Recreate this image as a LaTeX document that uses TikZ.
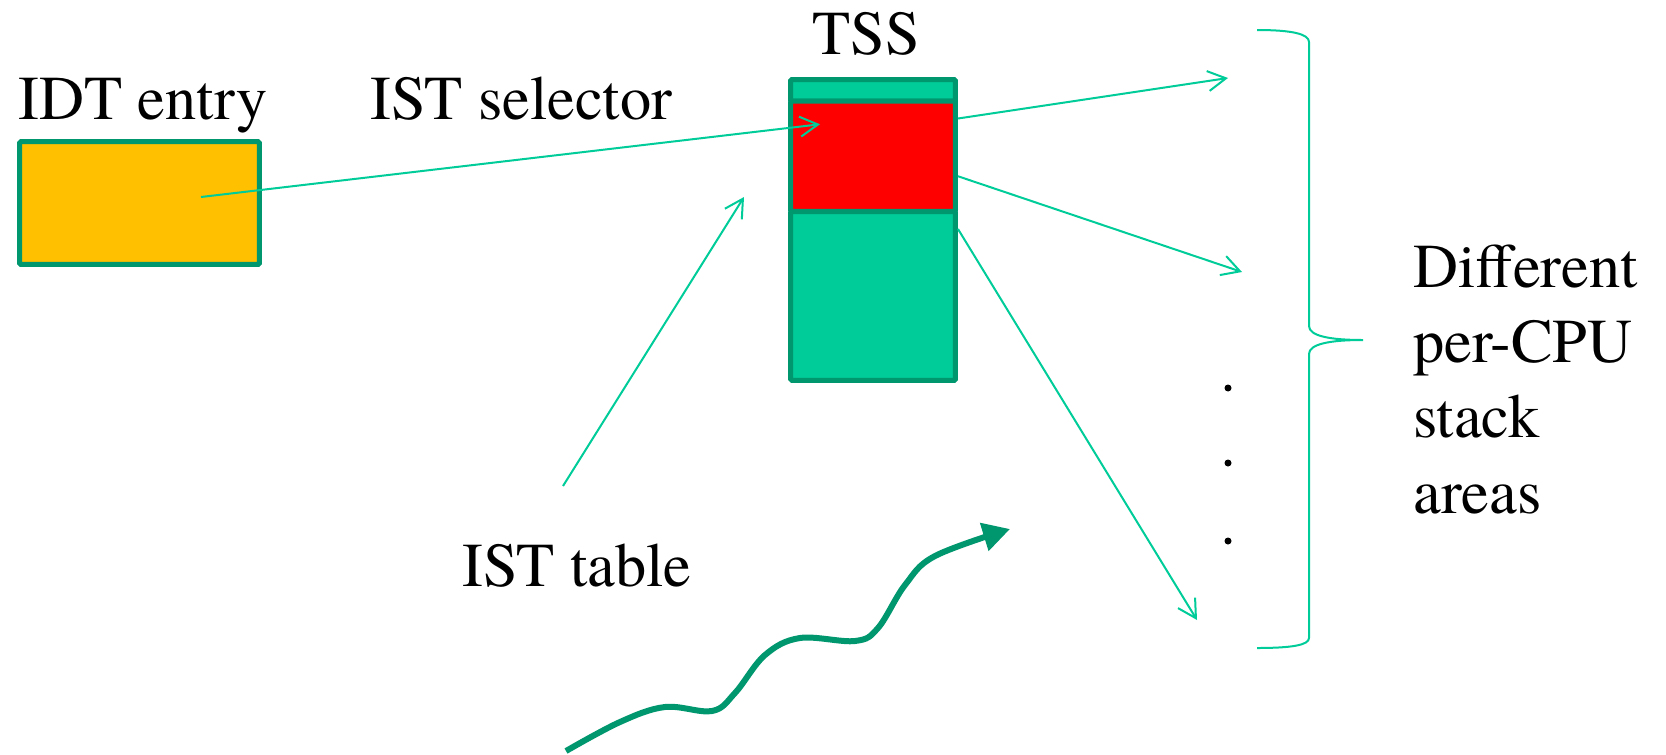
\documentclass[tikz,border=0pt]{standalone}
\usepackage{fontspec}
\setmainfont{texgyretermes-regular.otf}
\newfontfamily\timesfont{texgyretermes-regular.otf}
\usetikzlibrary{arrows.meta}
\usetikzlibrary{positioning}
\definecolor{tealline}{RGB}{0,204,153}
\definecolor{tealedge}{RGB}{0,150,110}
\definecolor{tealfill}{RGB}{0,204,153}
\definecolor{idtfill}{RGB}{255,192,0}

\begin{document}
\begin{tikzpicture}[x=0.02cm, y=-0.02cm, box/.style={rectangle, draw=tealedge, line width=0.1cm, rounded corners=0.03cm, inner sep=0pt, minimum width=3.3cm}, txt/.style={font=\timesfont\fontsize{35.5}{42.7}\selectfont, inner sep=0pt, anchor=base west}, arrow/.style={draw=tealline, line width=0.04cm, -{Straight Barb[length=0.36cm, width=0.4cm]}}, brace/.style={draw=tealline, line width=0.04cm}, wave/.style={draw=tealedge, line width=0.12cm, -{Triangle[length=0.54cm, width=0.56cm]}}]
\useasboundingbox (0,0) rectangle (1666,754);
\node (IDT) [box, fill=idtfill, minimum width=4.8cm, minimum height=2.46cm] at (139.5,203) {};
\node (TSSTOP) [box, fill=tealfill, minimum height=0.43cm] at (873,90.25) {};
\node (SEL) [box, fill=red, minimum height=2.21cm] at (873,156.25) {};
\node (TSSBODY) [box, fill=tealfill, minimum height=3.38cm] at (873,296) {};
\node (IDTLABEL) [txt] at (18,119) {IDT entry};
\node (SELLABEL) [txt] at (370,119) {IST selector};
\node (TSSLABEL) [txt, anchor=base] at (866,54) {TSS};
\node (ISTLABEL) [txt] at (462,586) {IST table};
\node (STKLABEL) [txt, align=left] at (1413,513) {Different\\per-CPU\\stack\\areas};
\coordinate (ISTFOOT) at (563,486);
\coordinate (ISTHEAD) at (744,197);
\coordinate (STK1) at (1228,78);
\coordinate (STK2) at (1242,272);
\coordinate (STK3) at (1197,620);
\draw [arrow] ([xshift=1.23cm,yshift=0.12cm]IDT.center) -- ([xshift=-1.06cm,yshift=0.64cm]SEL.center);
\draw [arrow] (ISTFOOT) -- (ISTHEAD);
\draw [arrow] ([yshift=-0.4cm]SEL.north east) -- (STK1);
\draw [arrow] ([yshift=-0.4cm]SEL.east) -- (STK2);
\draw [arrow] ([yshift=-0.4cm]TSSBODY.north east) -- (STK3);
\foreach \y in {388,463,541}
  \fill (1228,\y) circle (0.07cm);
\draw [brace] (1257,30) .. controls (1292,30) and (1309,34) .. (1309,42) -- (1309,326) .. controls (1309,336) and (1330,340) .. (1363,340) .. controls (1330,340) and (1309,344) .. (1309,354) -- (1309,638) .. controls (1309,645) and (1292,648) .. (1257,648);
\draw [wave] plot[smooth, tension=0.6] coordinates {(566,751) (620,722) (665,707) (712,711) (735,693) (765,655) (800,638) (855,641) (878,628) (905,585) (935,556) (1010,529)};
\end{tikzpicture}
\end{document}
